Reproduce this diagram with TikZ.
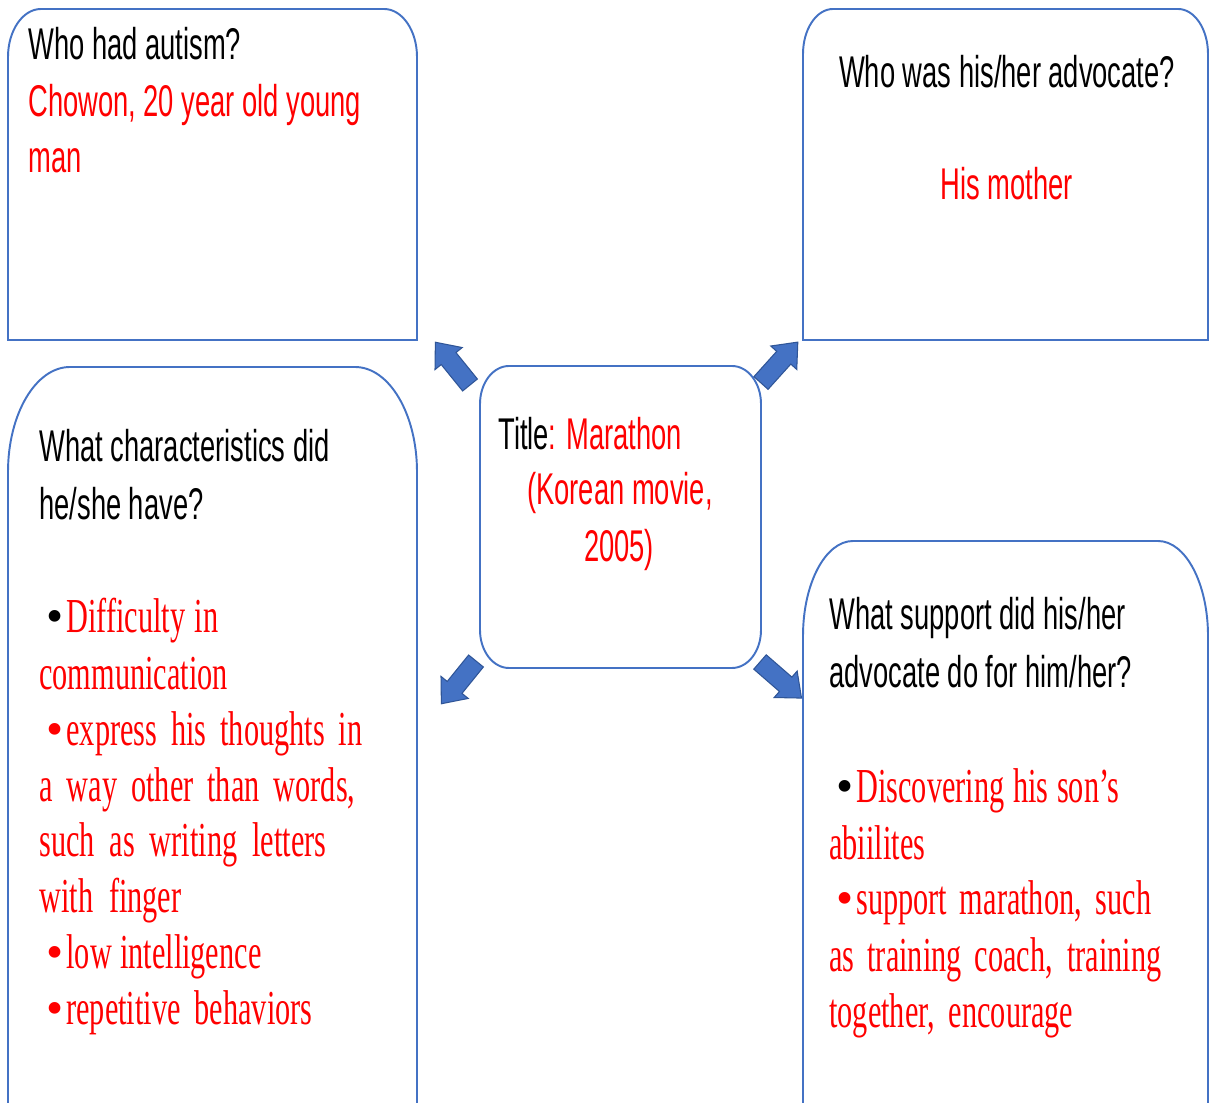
\documentclass[tikz,border=0pt]{standalone}
\usepackage{fontspec}
\usetikzlibrary{calc}
\usetikzlibrary{positioning}
\newfontfamily\qfont[FakeStretch=0.615]{Liberation Sans}
\newfontfamily\afont[FakeStretch=0.62]{Liberation Serif}
\newfontfamily\dotfont{Liberation Serif}
\definecolor{officeblue}{RGB}{68, 114, 196}
\definecolor{officedark}{RGB}{47, 85, 151}
\definecolor{answerred}{RGB}{255, 0, 0}
\newlength\pxu
\setlength\pxu{0.02cm}
\newcommand{\ansdot}{{\dotfont\textbullet}\hspace{3\pxu}}

\tikzset{
  boxline/.style={draw=officeblue, line width=1.1pt},
  question/.style={anchor=base west, inner sep=0pt, font=\qfont\fontsize{25.3pt}{31.7pt}\selectfont},
  answer/.style={anchor=base west, inner sep=0pt, text=answerred, font=\afont\fontsize{27.8pt}{31.7pt}\selectfont},
  blockarrow/.style={fill=officeblue, draw=officedark, line width=0.6pt, line join=miter},
}

\begin{document}
\begin{tikzpicture}[x=0.02cm, y=0.02cm]
            \useasboundingbox (0,0) rectangle (1210,1102);
            \fill[white] (0,0) rectangle (1210,1102);

            % four question boxes
            \draw[boxline] (8,762) -- (8,1045) arc[start angle=180, end angle=90, x radius=33, y radius=48]
                 -- (384,1093) arc[start angle=90, end angle=0, x radius=33, y radius=48] -- (417,762) -- cycle;
            \draw[boxline] (803,762) -- (803,1048) arc[start angle=180, end angle=90, x radius=30, y radius=45]
                 -- (1178,1093) arc[start angle=90, end angle=0, x radius=30, y radius=45] -- (1208,762) -- cycle;
            \draw[boxline] (8,-10) -- (8,630) arc[start angle=180, end angle=90, x radius=62, y radius=105]
                 -- (355,735) arc[start angle=90, end angle=0, x radius=62, y radius=105] -- (417,-10);
            \draw[boxline] (803,-10) -- (803,466) arc[start angle=180, end angle=90, x radius=50, y radius=95]
                 -- (1158,561) arc[start angle=90, end angle=0, x radius=50, y radius=95] -- (1208,-10);

            % title box
            \draw[boxline] (480,472) -- (480,698) arc[start angle=180, end angle=90, x radius=29, y radius=38]
                 -- (732,736) arc[start angle=90, end angle=0, x radius=29, y radius=38]
                 -- (761,472) arc[start angle=0, end angle=-90, x radius=29, y radius=38]
                 -- (509,434) arc[start angle=-90, end angle=-180, x radius=29, y radius=38] -- cycle;

            % block arrows
            \coordinate (arrTL) at (470,717);
            \coordinate (arrTR) at (761,719);
            \coordinate (arrBL) at (476,441);
            \coordinate (arrBR) at (760,440);
            \foreach \tail/\ang in {arrTL/129, arrTR/48, arrBL/231, arrBR/-41}{
                \filldraw[blockarrow, shift={(\tail)}, rotate=\ang]
                     (0,-9.5) -- (34,-9.5) -- (34,-17.5) -- (55,0) -- (34,17.5) -- (34,9.5) -- (0,9.5) -- cycle;
            }

            % texts
            \node[question] (qwho) at (28,1042) {Who had autism?};
            \node[question, text=answerred] (awho) at (28,985) {Chowon, 20 year old young};
            \node[question, text=answerred] (awho2) at (28,929) {man};

            \node[question, anchor=base] (qadv) at (1007,1014) {Who was his/her advocate?};
            \node[question, anchor=base, text=answerred] (aadv) at (1007,902) {His mother};

            \node[question] (title) at (498,652) {Title\textcolor{answerred}{: Marathon}};
            \node[question, anchor=base, text=answerred] (title2) at (620,597) {(Korean movie,};
            \node[question, anchor=base, text=answerred] (title3) at (619,540) {2005)};

            \node[question] (qchar) at (39,640) {What characteristics did};
            \node[question] (qchar2) at (39,582) {he/she have?};
            \node[answer] (char1) at (46,469) {\textcolor{black}{\ansdot}\makebox[152\pxu][s]{Difficulty in}};
            \node[answer] (char2) at (39,412) {communication};
            \node[answer] (char3) at (46,356) {\ansdot\makebox[296\pxu][s]{express his thoughts in}};
            \node[answer] (char4) at (39,300) {\makebox[316\pxu][s]{a way other than words,}};
            \node[answer] (char5) at (39,245) {\makebox[287\pxu][s]{such as writing letters}};
            \node[answer] (char6) at (39,189) {\makebox[142\pxu][s]{with finger}};
            \node[answer] (char7) at (46,133) {\ansdot\makebox[195\pxu][s]{low intelligence}};
            \node[answer] (char8) at (46,77) {\ansdot\makebox[246\pxu][s]{repetitive behaviors}};

            \node[question] (qsup) at (829,472) {What support did his/her};
            \node[question] (qsup2) at (829,414) {advocate do for him/her?};
            \node[answer] (sup1) at (836,299) {\textcolor{black}{\ansdot}\makebox[263\pxu][s]{Discovering his son’s}};
            \node[answer] (sup2) at (829,242) {abiilites};
            \node[answer] (sup3) at (836,187) {\ansdot\makebox[295\pxu][s]{support marathon, such}};
            \node[answer] (sup4) at (829,130) {\makebox[332\pxu][s]{as training coach, training}};
            \node[answer] (sup5) at (829,74) {\makebox[244\pxu][s]{together, encourage}};
\end{tikzpicture}
\end{document}
